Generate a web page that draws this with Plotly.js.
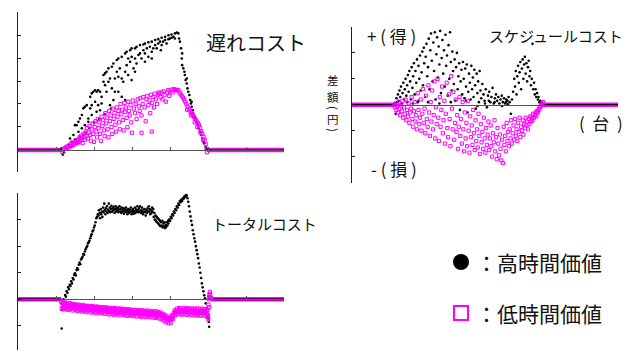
<!DOCTYPE html>
<html><head><meta charset="utf-8">
<script src="https://cdn.plot.ly/plotly-3.0.1.min.js"></script>
<style>html,body{margin:0;padding:0;background:#fff;}#chart{width:641px;height:351px;}</style>
</head><body><div id="chart"></div>
<script>
// ---- data: x = vehicle order (台), y = cost difference (円, arbitrary tick units) ----
const xTicks = [0,100,200,300,400,500,600,700];

// 遅れコスト (delay cost)
const delayHigh = [[118,-0.2],[121,-0.1],[115,0.07],[124,0.14],[133,0.21],[137,0.5],[141,0.36],[146,0.65],[150,1.08],[154,1.08],[159,1.23],[159,0.79],[163,1.37],[168,1.52],[168,0.94],[172,1.81],[172,0.65],[176,1.88],[176,1.08],[181,1.95],[185,1.37],[185,1.23],[190,2.31],[190,1.81],[194,2.46],[194,1.95],[194,1.52],[198,2.53],[203,2.6],[203,2.1],[207,2.53],[207,1.66],[211,2.6],[211,1.95],[216,2.53],[216,1.73],[220,2.02],[220,2.31],[225,3.26],[225,2.97],[229,3.33],[229,2.82],[233,3.4],[233,2.53],[238,3.55],[238,2.97],[242,3.11],[242,1.95],[247,3.62],[247,2.68],[251,3.76],[251,2.17],[255,3.11],[255,2.53],[260,3.91],[260,3.4],[264,3.98],[264,3.18],[264,2.53],[268,3.55],[273,4.05],[273,3.11],[273,2.31],[277,2.97],[282,4.2],[282,3.4],[282,2.17],[286,4.27],[286,3.69],[290,3.98],[290,3.26],[295,4.34],[295,3.84],[299,4.42],[299,4.05],[299,3.04],[304,3.55],[308,4.42],[308,3.98],[308,3.4],[312,4.49],[312,3.76],[317,4.13],[321,4.56],[321,4.2],[325,3.98],[330,4.59],[330,4.34],[334,4.63],[334,4.2],[334,3.84],[339,4.42],[343,4.68],[343,4.05],[347,4.49],[352,4.71],[352,4.27],[352,3.98],[356,4.42],[361,4.78],[361,4.56],[365,4.42],[369,4.82],[369,4.63],[374,4.71],[376,4.34],[378,4.88],[378,4.56],[382,4.71],[387,4.92],[387,4.78],[391,4.63],[396,4.99],[396,4.82],[400,4.85],[404,5.02],[404,4.88],[409,4.92],[413,5.07],[413,4.85],[418,5.11],[422,5.07],[424,4.85],[426,4.71],[429,4.42],[431,3.98],[432,4.2],[432,3.69],[435,3.55],[438,3.4],[439,3.26],[441,3.04],[444,3.11],[444,2.89],[446,2.68],[448,2.53],[451,2.39],[453,2.17],[455,2.02],[457,2.1],[457,1.88],[460,1.73],[461,1.59],[464,1.45],[466,1.37],[470,1.23],[473,1.08],[475,0.94],[479,0.79],[482,0.65],[485,0.5],[488,0.36],[490,0.29],[494,0.14],[496,0.04],[140,0.15],[150,0.45],[156,0.3],[163,0.55],[178,0.75],[188,0.95],[200,1.2],[214,1.35],[228,1.55],[245,1.8]];
const delayLow = [[117,-0.1],[120,0.02],[123,0.08],[126,0.05],[128,0.15],[131,0.1],[134,0.2],[136,0.12],[139,0.25],[141,0.18],[144,0.3],[146,0.22],[149,0.35],[151,0.28],[154,0.4],[156,0.3],[158,0.45],[160,0.35],[162,0.55],[164,0.4],[166,0.62],[168,0.5],[170,0.3],[172,0.7],[174,0.55],[176,0.45],[178,0.8],[180,0.6],[182,0.95],[184,0.5],[186,0.75],[188,1.05],[190,0.65],[192,0.4],[194,0.9],[196,1.15],[198,0.7],[200,0.35],[202,1.0],[204,1.25],[206,0.8],[208,0.55],[210,1.35],[212,0.95],[214,1.2],[216,0.7],[218,0.4],[220,1.45],[222,1.05],[224,1.3],[226,0.85],[228,0.6],[230,1.6],[232,1.15],[234,1.4],[236,0.9],[238,0.55],[240,1.7],[242,1.25],[244,1.5],[246,1.0],[248,0.7],[250,1.8],[252,1.35],[254,1.6],[256,1.1],[258,0.8],[260,1.85],[262,1.45],[264,1.7],[266,1.2],[268,0.9],[270,2.0],[272,1.55],[274,1.75],[276,1.3],[278,0.85],[280,2.05],[282,1.65],[284,1.85],[286,1.4],[288,1.0],[290,2.1],[292,1.7],[294,1.5],[296,1.95],[298,1.2],[300,0.75],[302,2.15],[305,1.8],[308,1.6],[310,2.0],[312,1.35],[315,2.2],[318,1.9],[320,1.7],[322,2.25],[325,1.5],[325,0.75],[328,2.0],[330,2.3],[333,1.85],[336,1.25],[338,2.2],[340,2.35],[343,1.95],[346,2.15],[348,1.6],[350,2.4],[352,0.8],[353,2.05],[356,2.3],[358,1.85],[360,2.45],[363,2.2],[366,2.0],[368,2.4],[370,2.5],[372,2.45],[375,2.3],[378,2.5],[380,2.2],[383,2.55],[386,2.4],[389,2.1],[392,2.5],[395,2.6],[398,2.35],[401,2.55],[404,2.62],[407,2.5],[410,2.65],[413,2.6],[416,2.62],[419,2.6],[422,2.6],[425,2.5],[428,2.42],[431,2.35],[434,2.28],[437,2.2],[440,2.1],[443,2.0],[446,1.9],[449,1.8],[452,1.72],[455,1.65],[458,1.57],[461,1.5],[464,1.42],[467,1.33],[470,1.25],[473,1.17],[476,1.1],[479,0.95],[482,0.82],[485,0.7],[488,0.58],[491,0.45],[494,0.25],[496,0.05],[497,-0.1],[445,1.75],[455,1.5],[465,1.2],[472,1.0],[480,0.75],[487,0.45]];

// スケジュールコスト (schedule cost)
const schedHigh = [[113,0.05],[115,-0.35],[117,0.25],[119,0.1],[121,0.4],[123,0.15],[125,0.55],[127,0.3],[129,0.7],[131,0.05],[133,0.45],[135,0.85],[137,0.2],[139,0.6],[141,1.0],[143,0.35],[145,0.75],[147,1.15],[149,0.5],[151,1.3],[153,0.9],[155,0.2],[157,1.45],[159,0.65],[161,1.1],[163,1.6],[165,0.4],[167,1.3],[169,0.85],[171,1.75],[173,0.1],[175,1.5],[177,1.0],[179,1.9],[181,0.55],[183,1.25],[185,2.05],[187,0.75],[189,2.2],[190,1.6],[192,0.3],[194,1.85],[196,2.35],[198,1.1],[200,1.45],[202,2.55],[204,0.6],[206,2.1],[208,2.75],[210,1.7],[212,0.9],[214,2.4],[216,1.3],[218,2.8],[220,0.2],[222,1.95],[224,2.6],[226,1.05],[228,2.25],[230,1.55],[232,2.85],[234,0.45],[236,1.8],[238,2.5],[240,1.2],[242,2.1],[244,0.7],[246,2.7],[248,1.5],[250,1.9],[252,0.35],[254,2.3],[256,1.0],[258,2.8],[260,1.65],[262,0.55],[264,2.05],[266,1.3],[268,0.8],[270,1.75],[272,0.15],[274,1.45],[276,2.0],[278,0.6],[280,1.1],[282,1.6],[284,-0.2],[286,0.9],[288,1.35],[290,0.4],[292,1.65],[294,1.0],[296,0.25],[298,1.4],[300,0.7],[302,1.55],[304,-0.3],[306,0.5],[308,1.2],[310,0.85],[312,0.2],[314,1.5],[316,0.6],[318,1.05],[320,0.3],[322,1.35],[324,0.75],[326,-0.15],[328,1.2],[330,0.45],[332,0.9],[334,0.1],[336,1.3],[338,0.55],[340,0.25],[343,0.8],[346,0.4],[349,0.15],[352,0.6],[355,-0.1],[358,0.35],[361,0.5],[364,0.1],[367,0.3],[370,0.65],[373,0.05],[376,0.25],[379,0.4],[382,0.15],[385,0.3],[388,0.05],[391,0.2],[394,0.35],[397,0.1],[400,0.25],[403,0.05],[406,0.2],[409,0.15],[412,0.3],[415,0.1],[418,-0.35],[421,0.2],[424,0.5],[427,1.0],[429,0.7],[431,1.3],[433,0.4],[435,1.1],[437,1.5],[439,0.85],[441,1.25],[443,1.65],[445,0.6],[447,1.4],[449,1.75],[451,1.0],[453,1.55],[455,1.85],[457,1.2],[459,1.6],[461,0.9],[463,1.45],[465,1.7],[467,1.1],[469,1.3],[471,0.75],[473,1.0],[475,2.35],[477,0.6],[479,0.85],[481,0.4],[483,0.6],[485,0.3],[487,0.45],[489,0.2],[491,0.3],[493,0.1],[495,0.15],[497,0.05],[499,0.1],[501,0.0],[503,0.0],[145,0.1],[160,0.05],[175,0.15],[200,0.1],[230,0.05],[260,0.1],[300,0.15],[330,-0.05],[350,0.05],[360,0.15],[375,0.1],[395,-0.05],[405,0.1],[410,0.02]];
const schedLow = [[111,0.0],[113,-0.1],[115,0.05],[117,-0.2],[119,-0.05],[121,-0.3],[123,0.1],[125,-0.15],[127,-0.4],[129,-0.05],[131,-0.25],[133,0.15],[135,-0.5],[137,-0.1],[139,-0.35],[141,0.2],[143,-0.6],[145,-0.2],[147,-0.45],[149,0.05],[151,-0.7],[153,-0.3],[155,-0.15],[157,0.3],[159,-0.55],[161,-0.85],[163,-0.25],[165,0.1],[167,-0.65],[169,-0.4],[171,-0.95],[173,0.45],[175,-0.2],[177,-0.75],[179,-0.5],[181,0.2],[183,-1.0],[185,-0.35],[187,0.6],[189,-0.7],[191,-0.15],[193,-1.1],[195,0.35],[197,-0.55],[199,-0.85],[201,0.75],[203,-0.3],[205,-1.2],[207,0.1],[209,-0.65],[211,0.55],[213,-0.95],[215,-0.4],[217,0.9],[219,-1.3],[221,-0.1],[223,-0.75],[225,1.0],[227,-0.5],[229,-1.4],[231,0.3],[233,-0.85],[235,-0.2],[237,0.7],[239,-1.1],[241,-0.6],[243,0.15],[245,-1.5],[247,-0.35],[249,0.85],[251,-0.9],[253,-1.25],[255,0.4],[257,-0.55],[259,-1.6],[261,1.1],[263,-0.15],[265,-0.95],[267,0.5],[269,-1.35],[271,-0.7],[273,0.2],[275,-1.05],[277,-0.4],[279,-1.7],[281,-0.85],[283,0.3],[285,-1.2],[287,-0.55],[289,-1.5],[291,0.1],[293,-0.95],[295,-1.8],[297,-0.3],[299,-1.3],[301,-0.7],[303,-1.6],[305,0.15],[307,-1.0],[309,-1.85],[311,-0.45],[313,-1.25],[315,-0.8],[317,-1.55],[319,-0.2],[321,-1.1],[323,-1.75],[325,-0.6],[327,-1.4],[329,-0.95],[331,-1.65],[333,-0.35],[335,-1.2],[337,-1.9],[339,-0.75],[341,-1.45],[343,-1.05],[345,-1.7],[347,-0.5],[349,-1.3],[351,-1.85],[353,-0.9],[355,-1.55],[357,-1.15],[359,-0.65],[361,-1.75],[363,-1.3],[365,-0.8],[367,-1.6],[369,-2.0],[371,-1.1],[373,-1.45],[375,-0.6],[377,-1.8],[379,-1.25],[381,-2.1],[383,-0.9],[385,-1.5],[387,-1.95],[389,-1.15],[391,-1.7],[393,-2.15],[395,-1.35],[397,-2.25],[399,-0.85],[401,-1.55],[403,-1.2],[405,-1.8],[407,-0.7],[409,-1.4],[411,-1.05],[413,-1.6],[415,-0.95],[417,-1.3],[419,-0.6],[421,-1.5],[423,-1.1],[425,-0.8],[427,-1.35],[429,-0.55],[431,-1.2],[433,-0.95],[435,-1.4],[437,-0.7],[439,-1.05],[441,-0.5],[443,-1.25],[445,-0.85],[447,-1.0],[449,-0.6],[451,-1.15],[453,-0.75],[455,-0.9],[457,-0.5],[459,-0.8],[461,-0.65],[463,-0.95],[465,-0.55],[467,-0.75],[469,-0.45],[471,-0.65],[473,-0.5],[475,-0.6],[477,-0.35],[479,-0.5],[481,-0.4],[483,-0.3],[485,-0.45],[487,-0.25],[489,-0.3],[491,-0.2],[493,-0.15],[495,-0.1],[497,-0.05],[499,0.05],[501,0.0],[503,0.1]];

// トータルコスト (total cost)
const totalHigh = [[114,-0.15],[115,-1.1],[116,-0.4],[118,-0.25],[120,0.0],[122,-0.1],[124,0.16],[126,0.1],[128,0.3],[130,0.25],[132,0.45],[134,0.38],[136,0.55],[138,0.5],[140,0.68],[142,0.6],[144,0.8],[146,0.75],[148,0.92],[150,0.98],[152,0.9],[154,1.1],[156,1.18],[158,1.12],[160,1.3],[162,1.38],[164,1.32],[166,1.5],[168,1.55],[170,1.6],[172,1.7],[174,1.68],[176,1.8],[178,1.88],[180,1.95],[182,2.0],[184,2.1],[186,2.15],[188,2.2],[190,2.3],[192,2.38],[194,2.45],[196,2.55],[198,2.6],[200,2.7],[202,2.78],[204,2.9],[206,3.05],[208,3.1],[210,3.2],[212,3.15],[213,3.35],[215,3.25],[216,3.05],[218,3.4],[219,3.2],[221,3.3],[222,3.1],[224,3.45],[225,3.28],[227,3.6],[228,3.35],[230,3.2],[231,3.42],[233,3.3],[234,3.5],[236,3.25],[237,3.38],[239,3.6],[240,3.32],[242,3.45],[243,3.28],[245,3.4],[246,3.52],[248,3.3],[249,3.42],[251,3.35],[252,3.48],[254,3.25],[255,3.4],[257,3.5],[258,3.3],[260,3.42],[261,3.35],[263,3.45],[264,3.28],[266,3.38],[267,3.5],[269,3.3],[270,3.4],[272,3.25],[273,3.45],[275,3.35],[276,3.3],[278,3.42],[279,3.22],[281,3.38],[282,3.3],[284,3.45],[285,3.28],[287,3.35],[288,3.2],[290,3.4],[291,3.3],[293,3.25],[294,3.38],[296,3.3],[297,3.45],[299,3.2],[300,3.35],[302,3.28],[303,3.4],[305,3.22],[306,3.32],[308,3.45],[309,3.25],[311,3.38],[312,3.3],[314,3.5],[315,3.35],[317,3.28],[318,3.42],[320,3.3],[321,3.5],[323,3.35],[324,3.25],[326,3.45],[327,3.3],[329,3.2],[330,3.38],[332,3.28],[333,3.4],[335,3.3],[336,3.15],[338,3.35],[339,3.25],[341,3.42],[342,3.3],[344,3.5],[345,3.3],[347,3.4],[348,3.2],[350,3.35],[351,3.25],[353,3.45],[354,3.3],[356,3.4],[357,3.1],[359,3.25],[360,3.0],[362,3.15],[363,2.95],[365,3.1],[366,2.9],[368,3.05],[369,2.85],[371,3.0],[372,2.8],[374,2.95],[375,2.75],[377,2.9],[378,2.78],[380,2.95],[381,2.7],[383,2.85],[384,2.75],[386,2.9],[387,2.68],[389,2.8],[390,2.72],[392,2.9],[393,2.78],[395,2.95],[396,2.85],[398,3.0],[400,2.95],[402,3.1],[404,3.05],[406,3.2],[408,3.15],[410,3.3],[412,3.25],[414,3.4],[416,3.35],[418,3.5],[420,3.45],[422,3.6],[424,3.55],[426,3.7],[428,3.65],[430,3.75],[432,3.7],[434,3.8],[436,3.78],[438,3.88],[440,3.85],[442,3.92],[444,3.9],[446,3.8],[448,3.67],[450,3.5],[452,3.3],[454,3.12],[456,2.95],[458,2.8],[460,2.6],[462,2.45],[464,2.3],[466,2.17],[468,2.0],[470,1.85],[472,1.7],[474,1.55],[476,1.35],[478,1.2],[480,1.0],[482,0.8],[484,0.6],[486,0.45],[488,0.3],[490,0.15],[492,0.04],[494,-0.15],[496,-0.34],[498,-0.5],[500,-0.65],[501,-0.72],[502,-0.85],[503,-1.03]];
const totalLow = [[114,-0.1],[115,-0.35],[117,-0.25],[119,-0.15],[121,-0.3],[123,-0.2],[125,-0.25],[127,-0.18],[129,-0.3],[131,-0.22],[133,-0.27],[135,-0.2],[137,-0.32],[139,-0.24],[141,-0.28],[143,-0.2],[145,-0.33],[147,-0.26],[149,-0.3],[151,-0.22],[153,-0.35],[155,-0.27],[157,-0.3],[159,-0.24],[161,-0.36],[163,-0.28],[165,-0.32],[167,-0.25],[169,-0.37],[171,-0.3],[173,-0.33],[175,-0.26],[177,-0.38],[179,-0.3],[181,-0.34],[183,-0.27],[185,-0.4],[187,-0.32],[189,-0.35],[191,-0.28],[193,-0.4],[195,-0.33],[197,-0.36],[199,-0.3],[201,-0.42],[203,-0.34],[205,-0.38],[207,-0.3],[209,-0.42],[211,-0.35],[213,-0.38],[215,-0.32],[217,-0.44],[219,-0.36],[221,-0.4],[223,-0.33],[225,-0.45],[227,-0.37],[229,-0.4],[231,-0.34],[233,-0.46],[235,-0.38],[237,-0.42],[239,-0.35],[241,-0.47],[243,-0.4],[245,-0.43],[247,-0.36],[249,-0.48],[251,-0.4],[253,-0.44],[255,-0.37],[257,-0.48],[259,-0.41],[261,-0.45],[263,-0.38],[265,-0.5],[267,-0.42],[269,-0.46],[271,-0.39],[273,-0.5],[275,-0.43],[277,-0.47],[279,-0.4],[281,-0.51],[283,-0.44],[285,-0.48],[287,-0.41],[289,-0.52],[291,-0.45],[293,-0.48],[295,-0.42],[297,-0.53],[299,-0.46],[301,-0.49],[303,-0.43],[305,-0.54],[307,-0.47],[309,-0.5],[311,-0.44],[313,-0.55],[315,-0.48],[317,-0.51],[319,-0.45],[321,-0.55],[323,-0.49],[325,-0.52],[327,-0.46],[329,-0.56],[331,-0.5],[333,-0.53],[335,-0.47],[337,-0.57],[339,-0.5],[341,-0.54],[343,-0.48],[345,-0.58],[347,-0.51],[349,-0.55],[351,-0.5],[353,-0.58],[355,-0.52],[357,-0.55],[359,-0.5],[361,-0.58],[363,-0.53],[365,-0.56],[367,-0.52],[369,-0.6],[371,-0.55],[373,-0.58],[375,-0.56],[377,-0.62],[379,-0.6],[381,-0.65],[383,-0.62],[385,-0.68],[387,-0.66],[389,-0.72],[391,-0.7],[393,-0.76],[395,-0.74],[397,-0.78],[399,-0.75],[401,-0.78],[403,-0.72],[405,-0.7],[407,-0.62],[409,-0.58],[411,-0.52],[413,-0.5],[415,-0.45],[417,-0.48],[419,-0.42],[421,-0.46],[423,-0.4],[425,-0.45],[427,-0.4],[429,-0.47],[431,-0.42],[433,-0.46],[435,-0.4],[437,-0.48],[439,-0.42],[441,-0.46],[443,-0.4],[445,-0.48],[447,-0.42],[449,-0.46],[451,-0.41],[453,-0.48],[455,-0.43],[457,-0.47],[459,-0.42],[461,-0.49],[463,-0.43],[465,-0.47],[467,-0.42],[469,-0.5],[471,-0.44],[473,-0.48],[475,-0.43],[477,-0.5],[479,-0.44],[481,-0.48],[483,-0.42],[485,-0.5],[487,-0.45],[489,-0.48],[491,-0.43],[493,-0.5],[495,-0.45],[497,-0.55],[499,-0.4],[500,-0.6],[501,-0.2],[502,0.0],[503,0.1],[504,0.2],[505,0.28],[506,0.15],[508,0.05],[510,0.02],
[120,-0.38],[126,-0.36],[132,-0.4],[138,-0.37],[144,-0.42],[150,-0.39],[156,-0.44],[162,-0.41],[168,-0.46],[174,-0.43],[180,-0.48],[186,-0.45],[192,-0.5],[198,-0.47],[204,-0.52],[210,-0.49],[216,-0.53],[222,-0.5],[228,-0.55],[234,-0.52],[240,-0.57],[246,-0.54],[252,-0.58],[258,-0.55],[264,-0.6],[270,-0.57],[276,-0.6],[282,-0.58],[288,-0.62],[294,-0.59],[300,-0.63],[306,-0.6],[312,-0.65],[318,-0.62],[324,-0.66],[330,-0.63],[336,-0.67],[342,-0.64],[348,-0.68],[354,-0.66],[360,-0.7],[366,-0.68],[372,-0.72],[378,-0.75],[384,-0.8],[390,-0.86],[396,-0.9],[402,-0.88],[408,-0.74],[414,-0.6],[420,-0.56],[426,-0.55],[432,-0.58],[438,-0.55],[444,-0.59],[450,-0.56],[456,-0.6],[462,-0.57],[468,-0.61],[474,-0.58],[480,-0.62],[486,-0.58],[492,-0.62],[498,-0.65],[501,-0.75],[503,-0.3],
[118,-0.1],[124,-0.12],[130,-0.15],[136,-0.14],[142,-0.17],[148,-0.18],[154,-0.2],[160,-0.2],[166,-0.22],[172,-0.21],[178,-0.25],[184,-0.24],[190,-0.26],[196,-0.25],[202,-0.28],[208,-0.27],[214,-0.3],[220,-0.29],[226,-0.31],[232,-0.3],[238,-0.33],[244,-0.32],[250,-0.34],[256,-0.33],[262,-0.36],[268,-0.34],[274,-0.37],[280,-0.36],[286,-0.38],[292,-0.37],[298,-0.4],[304,-0.39],[310,-0.41],[316,-0.4],[322,-0.42],[328,-0.41],[334,-0.44],[340,-0.42],[346,-0.45],[352,-0.44],[358,-0.46],[364,-0.45],[370,-0.48],[376,-0.5],[382,-0.55],[388,-0.6],[394,-0.65],[400,-0.68],[406,-0.6],[412,-0.42],[418,-0.35],[424,-0.33],[430,-0.35],[436,-0.32],[442,-0.35],[448,-0.33],[454,-0.36],[460,-0.34],[466,-0.36],[472,-0.34],[478,-0.37],[484,-0.35],[490,-0.37],[496,-0.4]];

// x-ranges where both groups have zero difference (no congestion effect)
const zeroRunsDelay = [[0,116],[497,700]];
const zeroRunsSched = [[0,111],[503,700]];
const zeroRunsTotal = [[0,114],[508,700]];

// text
const titles = ['遅れコスト','スケジュールコスト','トータルコスト'];
const legendLabels = ['：高時間価値','：低時間価値'];

// ---- layout helpers ----
const W = 641, H = 351;
const FONT = '"Noto Sans CJK JP", "Noto Sans", sans-serif';
const MAG = '#ff00ff';
const px = v => v / W;
const py = v => 1 - v / H;

const panels = [
  {id:'', xd:[18,284], yd:[12,172],  yr:[-0.957,6.0], hi:delayHigh, lo:delayLow, zr:zeroRunsDelay, xt:true},
  {id:'2', xd:[352,618], yd:[27,183], yr:[-3.02,3.0], hi:schedHigh, lo:schedLow, zr:zeroRunsSched, xt:false},
  {id:'3', xd:[18,284], yd:[193,350], yr:[-1.906,4.0], hi:totalHigh, lo:totalLow, zr:zeroRunsTotal, xt:true}
];

const traces = [];
const layout = {
  width: W, height: H,
  margin: {l:0, r:0, t:0, b:0},
  paper_bgcolor: '#fff', plot_bgcolor: 'rgba(0,0,0,0)',
  showlegend: false,
  font: {family: FONT, color: '#111'},
  annotations: [], shapes: []
};

panels.forEach(p => {
  const xa = 'x' + p.id, ya = 'y' + p.id;
  const yDom = [py(p.yd[1]), py(p.yd[0])];
  const zeroFrac = (0 - p.yr[0]) / (p.yr[1] - p.yr[0]);
  layout['xaxis' + p.id] = {
    domain: [px(p.xd[0]), px(p.xd[1])], range: [0, 700],
    anchor: 'free', position: yDom[0] + zeroFrac * (yDom[1] - yDom[0]),
    showline: true, linecolor: '#555', linewidth: 1,
    ticks: p.xt ? 'inside' : '', ticklen: 3, tickcolor: '#555',
    tickvals: xTicks, showticklabels: false, showgrid: false, zeroline: false, fixedrange: true
  };
  layout['yaxis' + p.id] = {
    domain: yDom, range: p.yr, anchor: xa,
    showline: true, linecolor: '#222', linewidth: 1,
    ticks: 'inside', ticklen: 3, tickcolor: '#222', dtick: 1, tick0: 0,
    showticklabels: false, showgrid: false, zeroline: false, fixedrange: true
  };
  const zx = [], zy = [];
  p.zr.forEach(r => { zx.push(r[0], r[1], null); zy.push(0, 0, null); });
  traces.push({type:'scatter', mode:'lines', x:zx, y:zy, xaxis:xa, yaxis:ya,
    line:{color:MAG, width:4.5}, hoverinfo:'skip'});
  traces.push({type:'scatter', mode:'lines', x:zx, y:zy, xaxis:xa, yaxis:ya,
    line:{color:'#000', width:1.6}, hoverinfo:'skip'});
  traces.push({type:'scatter', mode:'markers', x:p.hi.map(d=>d[0]), y:p.hi.map(d=>d[1]),
    xaxis:xa, yaxis:ya, marker:{symbol:'circle', size:2.6, color:'#000', line:{width:0}}, cliponaxis:false});
  traces.push({type:'scatter', mode:'markers', x:p.lo.map(d=>d[0]), y:p.lo.map(d=>d[1]),
    xaxis:xa, yaxis:ya, marker:{symbol:'square-open', size:3.2, color:MAG, line:{width:1, color:MAG}}, cliponaxis:false});
});

function ann(text, x, y, size, opts) {
  layout.annotations.push(Object.assign({
    text: text, xref:'paper', yref:'paper', x: px(x), y: py(y),
    xanchor:'center', yanchor:'middle', showarrow:false, borderpad:0,
    font:{family:FONT, size:size, color:'#111'}
  }, opts || {}));
}
ann(titles[0], 256, 42, 20);
ann(titles[1], 556, 35, 15);
ann(titles[2], 264, 223, 15);
ann('+ ( 得 )', 391, 35, 17);
ann('- ( 損 )', 394, 168, 17);
ann('(  台  )', 601, 123, 17);
// vertical y-axis caption 差額(円), upright characters stacked
ann('差', 333, 80, 11.5);
ann('額', 333, 97, 11.5);
ann('(', 333, 108, 11.5, {textangle: 90});
ann('円', 333, 119, 11.5);
ann(')', 333, 130, 11.5, {textangle: 90});
// legend
layout.shapes.push({type:'circle', xref:'paper', yref:'paper', x0:px(453), x1:px(469), y0:py(270), y1:py(254),
  fillcolor:'#000', line:{width:0}});
layout.shapes.push({type:'rect', xref:'paper', yref:'paper', x0:px(454), x1:px(468), y0:py(320), y1:py(306),
  fillcolor:'rgba(0,0,0,0)', line:{width:2, color:MAG}});
ann(legendLabels[0], 475, 262, 21, {xanchor:'left'});
ann(legendLabels[1], 475, 313, 21, {xanchor:'left'});

Plotly.newPlot('chart', traces, layout, {staticPlot:true, displayModeBar:false});
</script></body></html>
